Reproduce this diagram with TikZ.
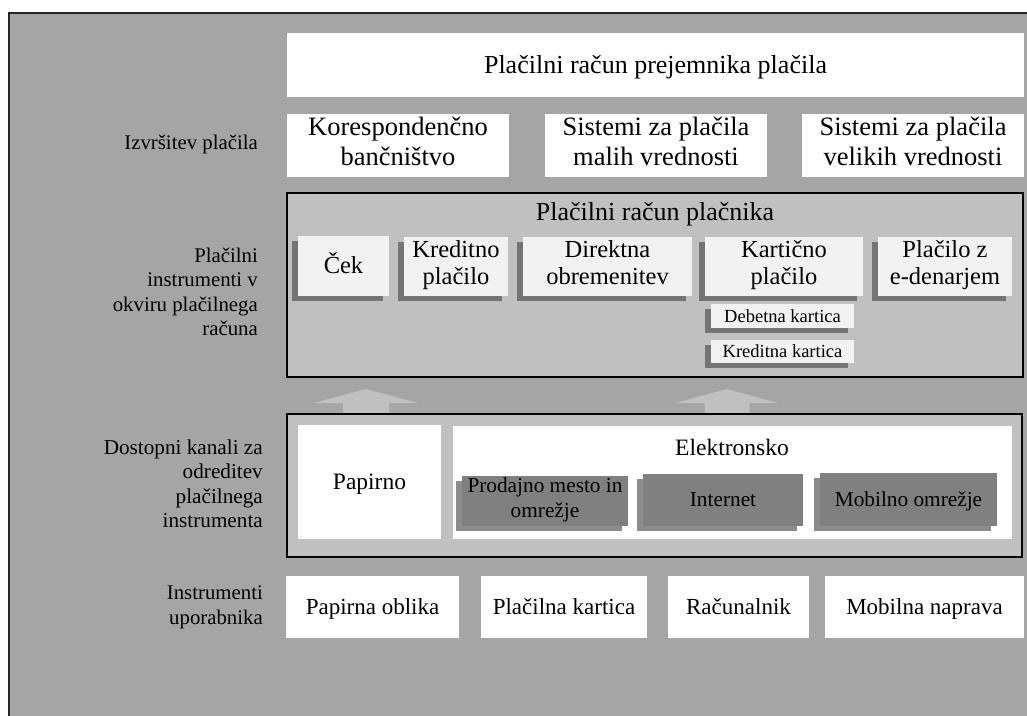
\documentclass[tikz,border=0pt]{standalone}
\usepackage{fontspec}
\setmainfont{Liberation Serif}
\usetikzlibrary{fit,shadows}

\definecolor{bgc}{HTML}{A5A5A5}
\definecolor{framec}{HTML}{C0C0C0}
\definecolor{cardc}{HTML}{F2F2F2}
\definecolor{cardsh}{HTML}{747474}
\definecolor{chanc}{HTML}{808080}
\definecolor{chansh}{HTML}{8C8C8C}

\newcommand{\fsz}[2]{\fontsize{#1}{#2}\selectfont}

\tikzset{
  wbox/.style={fill=white, inner sep=0pt},
  groupframe/.style={fill=framec, draw=black, line width=2.5pt, inner sep=0pt},
  card/.style={fill=cardc, inner sep=0pt,
    drop shadow={shadow xshift=-6pt, shadow yshift=-5pt, fill=cardsh, opacity=1}},
  chan/.style={fill=chanc, inner sep=0pt,
    drop shadow={shadow xshift=-6pt, shadow yshift=-5pt, fill=chansh, opacity=1}},
  % uniform line box so that accents and descenders do not shift the text
  txt/.style={inner sep=0pt, align=center, font=\fsz{26.5}{30},
    execute at begin node=\rule{0pt}{0.95em},
    execute at end node=\rule[-0.3em]{0pt}{0pt}},
  cardtxt/.style={txt, font=\fsz{24.5}{27}},
  subtxt/.style={txt, font=\fsz{18.5}{21}},
  chantxt/.style={txt, font=\fsz{21.3}{25}},
  devtxt/.style={txt, font=\fsz{23}{27}},
  lbl/.style={anchor=east, align=right, inner sep=0pt, font=\fsz{20.8}{24.5},
    execute at begin node=\rule{0pt}{0.95em},
    execute at end node=\rule[-0.3em]{0pt}{0pt}},
  blockarrow/.style={fill=framec},
}

\begin{document}
\begin{tikzpicture}[x=1pt, y=-1pt]
  % page and outer panel
  \useasboundingbox (0,0) rectangle (1027,715);
  \fill[white] (0,0) rectangle (1027,715);
  \draw[line width=2pt, draw=black!85, fill=bgc] (8.7,13.3) rectangle (1045,740);

  % payee account and settlement systems
  \node[wbox, fit={(287,33) (1024,97)}] (payee) {};
  \node[txt, font=\fsz{26}{30}] (payeeT) at (payee) {Plačilni račun prejemnika plačila};
  \node[wbox, fit={(287,114) (509,177)}] (corr) {};
  \node[txt] (corrT) at (corr) {Korespondenčno\\bančništvo};
  \node[wbox, fit={(545,114) (767,177)}] (small) {};
  \node[txt] (smallT) at (small) {Sistemi za plačila\\malih vrednosti};
  \node[wbox, fit={(802,114) (1024,177)}] (large) {};
  \node[txt] (largeT) at (large) {Sistemi za plačila\\velikih vrednosti};
  \node[lbl] (lexec) at (258,143) {Izvršitev plačila};

  % payer account with payment instruments
  \node[groupframe, fit={(287,193) (1023,377)}] (payer) {};
  \node[txt, font=\fsz{26}{30}] (payerT) at (655,212) {Plačilni račun plačnika};
  \node[card, fit={(298,236) (389,296)}] (cek) {};
  \node[cardtxt] (cekT) at (cek) {Ček};
  \node[card, fit={(404,237) (508,296)}] (credit) {};
  \node[cardtxt] (creditT) at (credit) {Kreditno\\plačilo};
  \node[card, fit={(523,237) (692,296)}] (debit) {};
  \node[cardtxt] (debitT) at (debit) {Direktna\\obremenitev};
  \node[card, fit={(705,237) (863,296)}] (cardpay) {};
  \node[cardtxt] (cardpayT) at (cardpay) {Kartično\\plačilo};
  \node[card, fit={(878,237) (1012,296)}] (emoney) {};
  \node[cardtxt] (emoneyT) at (emoney) {Plačilo z\\e-denarjem};
  \node[card, fit={(711,304) (854,328)}] (debcard) {};
  \node[subtxt] (debcardT) at (debcard) {Debetna kartica};
  \node[card, fit={(711,340) (854,363)}] (credcard) {};
  \node[subtxt] (credcardT) at (credcard) {Kreditna kartica};
  \node[lbl] (linstr) at (258,295) {Plačilni\\instrumenti v\\okviru plačilnega\\računa};

  % upward block arrows from channels to instruments
  \fill[blockarrow] (343,416) -- (343,403) -- (314,403) -- (366,389) -- (418,403)
    -- (389,403) -- (389,416) -- cycle;
  \fill[blockarrow] (704.5,416) -- (704.5,403) -- (675,403) -- (727,389) -- (778,403)
    -- (749.5,403) -- (749.5,416) -- cycle;

  % channels for initiating a payment instrument
  \node[groupframe, fit={(287,414) (1022,557)}] (chans) {};
  \node[wbox, fit={(298,425) (441,539)}] (paper) {};
  \node[txt, font=\fsz{23.5}{27}] (paperT) at (paper) {Papirno};
  \node[wbox, fit={(453,426) (1012,539)}] (elec) {};
  \node[txt, font=\fsz{23.5}{27}] (elecT) at (732,448) {Elektronsko};
  \node[chan, fit={(462,476) (628,526)}] (pos) {};
  \node[chantxt] (posT) at (pos) {Prodajno mesto in\\omrežje};
  \node[chan, fit={(643,474) (803,526)}] (inet) {};
  \node[chantxt] (inetT) at (inet) {Internet};
  \node[chan, fit={(820,473) (997,526)}] (mobnet) {};
  \node[chantxt] (mobnetT) at (mobnet) {Mobilno omrežje};
  \node[lbl, font=\fsz{21.2}{24.5}] (lchan) at (263,487) {Dostopni kanali za\\odreditev\\plačilnega\\instrumenta};

  % user devices
  \node[wbox, fit={(286,576) (459,638)}] (paperf) {};
  \node[devtxt] (paperfT) at (paperf) {Papirna oblika};
  \node[wbox, fit={(481,576) (647,638)}] (pcard) {};
  \node[devtxt] (pcardT) at (pcard) {Plačilna kartica};
  \node[wbox, fit={(668,576) (809,638)}] (pc) {};
  \node[devtxt] (pcT) at (pc) {Računalnik};
  \node[wbox, fit={(825,576) (1024,638)}] (mobile) {};
  \node[devtxt] (mobileT) at (mobile) {Mobilna naprava};
  \node[lbl] (luser) at (263,608) {Instrumenti\\uporabnika};
\end{tikzpicture}
\end{document}
